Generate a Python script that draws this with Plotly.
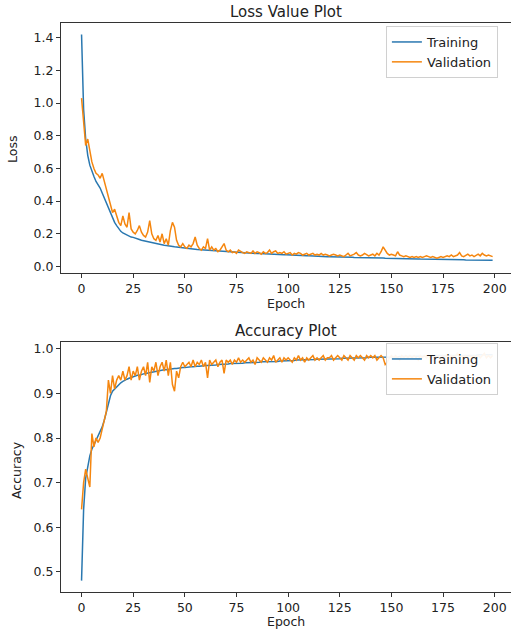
import plotly.graph_objects as go
from plotly.subplots import make_subplots

epochs = list(range(200))

train_loss = [
    1.42, 0.96, 0.78, 0.68, 0.62, 0.58, 0.55, 0.52, 0.50, 0.48,
    0.45, 0.42, 0.38, 0.35, 0.32, 0.30, 0.27, 0.25, 0.23, 0.215,
    0.205, 0.198, 0.19, 0.185, 0.18, 0.178, 0.172, 0.168, 0.165, 0.160,
    0.157, 0.154, 0.150, 0.148, 0.145, 0.142, 0.140, 0.137, 0.135, 0.132,
    0.130, 0.129, 0.126, 0.124, 0.123, 0.120, 0.119, 0.118, 0.116, 0.114,
    0.113, 0.112, 0.110, 0.108, 0.108, 0.106, 0.104, 0.103, 0.103, 0.101,
    0.100, 0.099, 0.098, 0.098, 0.096, 0.095, 0.095, 0.093, 0.092, 0.092,
    0.090, 0.089, 0.089, 0.088, 0.087, 0.086, 0.086, 0.085, 0.084, 0.083,
    0.083, 0.082, 0.081, 0.081, 0.080, 0.079, 0.079, 0.078, 0.077, 0.077,
    0.076, 0.075, 0.075, 0.074, 0.074, 0.073, 0.072, 0.072, 0.071, 0.071,
    0.070, 0.069, 0.069, 0.068, 0.068, 0.067, 0.067, 0.066, 0.066, 0.065,
    0.065, 0.064, 0.064, 0.063, 0.063, 0.062, 0.062, 0.061, 0.061, 0.060,
    0.060, 0.060, 0.059, 0.059, 0.058, 0.058, 0.058, 0.057, 0.057, 0.056,
    0.056, 0.056, 0.055, 0.055, 0.055, 0.054, 0.054, 0.054, 0.053, 0.053,
    0.053, 0.052, 0.052, 0.052, 0.051, 0.051, 0.052, 0.050, 0.050, 0.050,
    0.049, 0.049, 0.049, 0.048, 0.048, 0.048, 0.047, 0.047, 0.047, 0.047,
    0.046, 0.046, 0.046, 0.046, 0.045, 0.045, 0.045, 0.045, 0.044, 0.044,
    0.044, 0.044, 0.043, 0.043, 0.043, 0.043, 0.042, 0.042, 0.042, 0.042,
    0.042, 0.041, 0.041, 0.041, 0.041, 0.041, 0.040, 0.040, 0.040, 0.040,
    0.040, 0.039, 0.039, 0.039, 0.039, 0.039, 0.038, 0.038, 0.038, 0.038,
]

val_loss = [
    1.03, 0.86, 0.74, 0.78, 0.70, 0.64, 0.60, 0.57, 0.56, 0.54,
    0.57, 0.52, 0.47, 0.42, 0.37, 0.33, 0.35, 0.31, 0.27, 0.25,
    0.31, 0.26, 0.24, 0.33, 0.23, 0.21, 0.20, 0.22, 0.25, 0.21,
    0.19, 0.18, 0.21, 0.28, 0.20, 0.17, 0.16, 0.19, 0.15, 0.20,
    0.14, 0.17, 0.13, 0.22, 0.27, 0.24, 0.16, 0.13, 0.12, 0.14,
    0.12, 0.11, 0.13, 0.12, 0.14, 0.18, 0.13, 0.11, 0.10, 0.12,
    0.11, 0.17, 0.10, 0.12, 0.10, 0.11, 0.09, 0.10, 0.12, 0.14,
    0.10, 0.09, 0.10, 0.085, 0.09, 0.08, 0.10, 0.09, 0.085, 0.08,
    0.09, 0.085, 0.08, 0.095, 0.08, 0.09, 0.085, 0.075, 0.09, 0.08,
    0.085, 0.10, 0.08, 0.09, 0.095, 0.08, 0.085, 0.08, 0.09, 0.075,
    0.08, 0.085, 0.07, 0.08, 0.075, 0.085, 0.08, 0.07, 0.075, 0.08,
    0.07, 0.075, 0.08, 0.07, 0.075, 0.07, 0.08, 0.07, 0.075, 0.07,
    0.065, 0.07, 0.075, 0.07, 0.065, 0.07, 0.065, 0.06, 0.07, 0.08,
    0.065, 0.07, 0.075, 0.085, 0.07, 0.065, 0.07, 0.08, 0.07, 0.065,
    0.07, 0.075, 0.065, 0.08, 0.07, 0.09, 0.12, 0.10, 0.08, 0.07,
    0.075, 0.07, 0.065, 0.09, 0.07, 0.065, 0.06, 0.065, 0.06, 0.055,
    0.06, 0.055, 0.06, 0.055, 0.06, 0.055, 0.06, 0.065, 0.06, 0.055,
    0.06, 0.055, 0.05, 0.055, 0.06, 0.055, 0.06, 0.065, 0.06, 0.07,
    0.06, 0.065, 0.07, 0.085, 0.065, 0.06, 0.07, 0.075, 0.065, 0.07,
    0.06, 0.07, 0.075, 0.065, 0.08, 0.07, 0.065, 0.07, 0.065, 0.06,
]

train_acc = [
    0.48, 0.64, 0.71, 0.74, 0.76, 0.775, 0.785, 0.795, 0.805, 0.815,
    0.825, 0.84, 0.86, 0.88, 0.895, 0.905, 0.91, 0.915, 0.92, 0.924,
    0.927, 0.93, 0.932, 0.934, 0.936, 0.937, 0.939, 0.941, 0.941, 0.943,
    0.944, 0.945, 0.946, 0.947, 0.948, 0.948, 0.950, 0.951, 0.951, 0.952,
    0.953, 0.953, 0.954, 0.955, 0.955, 0.956, 0.956, 0.957, 0.957, 0.958,
    0.958, 0.959, 0.959, 0.960, 0.960, 0.961, 0.961, 0.961, 0.962, 0.962,
    0.963, 0.963, 0.963, 0.964, 0.964, 0.964, 0.965, 0.965, 0.965, 0.966,
    0.966, 0.966, 0.967, 0.967, 0.967, 0.967, 0.968, 0.968, 0.968, 0.969,
    0.969, 0.969, 0.969, 0.970, 0.970, 0.970, 0.970, 0.971, 0.971, 0.971,
    0.971, 0.972, 0.972, 0.972, 0.972, 0.972, 0.973, 0.973, 0.973, 0.973,
    0.974, 0.974, 0.974, 0.974, 0.975, 0.975, 0.975, 0.975, 0.975, 0.976,
    0.976, 0.976, 0.976, 0.976, 0.977, 0.977, 0.977, 0.977, 0.977, 0.977,
    0.978, 0.978, 0.978, 0.978, 0.978, 0.978, 0.979, 0.979, 0.979, 0.979,
    0.979, 0.979, 0.980, 0.980, 0.980, 0.980, 0.980, 0.980, 0.980, 0.981,
    0.981, 0.981, 0.981, 0.981, 0.981, 0.981, 0.982, 0.982, 0.982, 0.982,
    0.982, 0.982, 0.982, 0.982, 0.983, 0.983, 0.983, 0.983, 0.983, 0.983,
    0.983, 0.983, 0.984, 0.984, 0.984, 0.984, 0.984, 0.984, 0.984, 0.984,
    0.984, 0.985, 0.985, 0.985, 0.985, 0.985, 0.985, 0.985, 0.985, 0.985,
    0.985, 0.986, 0.986, 0.986, 0.986, 0.986, 0.986, 0.986, 0.986, 0.986,
    0.986, 0.986, 0.987, 0.987, 0.987, 0.987, 0.987, 0.987, 0.987, 0.987,
]

val_acc = [
    0.64, 0.70, 0.73, 0.71, 0.69, 0.81, 0.78, 0.80, 0.79, 0.80,
    0.82, 0.84, 0.86, 0.93, 0.90, 0.94, 0.91, 0.93, 0.94, 0.93,
    0.95, 0.93, 0.94, 0.96, 0.93, 0.95, 0.94, 0.96, 0.93, 0.95,
    0.96, 0.94, 0.97, 0.925, 0.96, 0.95, 0.97, 0.94, 0.96, 0.97,
    0.95, 0.975, 0.94, 0.97, 0.92, 0.905, 0.95, 0.935, 0.96, 0.97,
    0.96, 0.965, 0.97, 0.96, 0.975, 0.96, 0.97, 0.965, 0.975, 0.96,
    0.97, 0.935, 0.975, 0.965, 0.97, 0.975, 0.96, 0.97, 0.975, 0.945,
    0.975, 0.97, 0.975, 0.965, 0.975, 0.97, 0.98, 0.97, 0.975, 0.97,
    0.975, 0.98, 0.97, 0.975, 0.965, 0.98, 0.975, 0.97, 0.98, 0.975,
    0.97, 0.98, 0.975, 0.985, 0.97, 0.975, 0.98, 0.97, 0.98, 0.975,
    0.98, 0.975, 0.97, 0.98, 0.975, 0.985, 0.975, 0.98, 0.97, 0.98,
    0.975, 0.98, 0.985, 0.975, 0.98, 0.975, 0.98, 0.985, 0.975, 0.98,
    0.98, 0.985, 0.975, 0.98, 0.985, 0.98, 0.975, 0.985, 0.98, 0.975,
    0.985, 0.98, 0.975, 0.985, 0.98, 0.985, 0.98, 0.975, 0.985, 0.98,
    0.985, 0.98, 0.985, 0.975, 0.98, 0.985, 0.98, 0.965, 0.97, 0.98,
    0.985, 0.98, 0.985, 0.98, 0.975, 0.985, 0.98, 0.985, 0.98, 0.985,
    0.98, 0.985, 0.98, 0.975, 0.985, 0.98, 0.985, 0.98, 0.985, 0.98,
    0.985, 0.98, 0.985, 0.98, 0.975, 0.985, 0.98, 0.985, 0.98, 0.985,
    0.98, 0.985, 0.99, 0.98, 0.985, 0.98, 0.985, 0.98, 0.985, 0.98,
    0.985, 0.98, 0.985, 0.98, 0.985, 0.99, 0.98, 0.985, 0.98, 0.985,
]

x_ticks = [0, 25, 50, 75, 100, 125, 150, 175, 200]
loss_ticks = [0.0, 0.2, 0.4, 0.6, 0.8, 1.0, 1.2, 1.4]
acc_ticks = [0.5, 0.6, 0.7, 0.8, 0.9, 1.0]

blue = "#2a78b0"
orange = "#f5860f"
font = "DejaVu Sans"
txt = "#222"

fig = make_subplots(rows=2, cols=1)

fig.add_trace(go.Scatter(x=epochs, y=train_loss, mode="lines", name="Training",
                         line=dict(color=blue, width=1.5), legend="legend"), row=1, col=1)
fig.add_trace(go.Scatter(x=epochs, y=val_loss, mode="lines", name="Validation",
                         line=dict(color=orange, width=1.5), legend="legend"), row=1, col=1)
fig.add_trace(go.Scatter(x=epochs, y=train_acc, mode="lines", name="Training",
                         line=dict(color=blue, width=1.5), legend="legend2"), row=2, col=1)
fig.add_trace(go.Scatter(x=epochs, y=val_acc, mode="lines", name="Validation",
                         line=dict(color=orange, width=1.5), legend="legend2"), row=2, col=1)

axis_style = dict(showline=True, linecolor="#333", linewidth=1, ticks="outside",
                  ticklen=4, tickcolor="#333", showgrid=False, zeroline=False,
                  automargin=False, tickfont=dict(family=font, size=12.5, color=txt))

fig.update_xaxes(range=[-9.95, 207.9], tickvals=x_ticks, mirror=True, domain=[0, 1], **axis_style)
fig.update_yaxes(mirror=False, tickformat=".1f", **axis_style)

top1, bot1 = 1 - 23 / 630, 1 - 273 / 630
top2, bot2 = 1 - 342 / 630, 1 - 592 / 630

fig.update_layout(
    yaxis=dict(domain=[bot1, top1], range=[-0.04, 1.49], tickvals=loss_ticks),
    yaxis2=dict(domain=[bot2, top2], range=[0.4545, 1.0155], tickvals=acc_ticks),
)

legend_style = dict(x=0.722, xanchor="left", yanchor="top", bgcolor="rgba(255,255,255,0.93)",
                    bordercolor="#d0d0d0", borderwidth=1,
                    font=dict(family=font, size=13, color=txt),
                    tracegroupgap=0, itemwidth=30)


def label(text, x, y, size=12.5, angle=0):
    return dict(text=text, x=x, y=y, xref="paper", yref="paper", xanchor="center",
                yanchor="middle", showarrow=False, textangle=angle,
                font=dict(family=font, size=size, color=txt))


lx = (12 - 61) / 450
fig.update_layout(
    width=511, height=630,
    margin=dict(l=61, r=0, t=0, b=0, autoexpand=False),
    paper_bgcolor="white", plot_bgcolor="white",
    showlegend=True,
    legend=dict(y=1 - 26 / 630, **legend_style),
    legend2=dict(y=1 - 343 / 630, **legend_style),
    annotations=[
        label("Loss Value Plot", 0.5, 1 - 12 / 630, size=15),
        label("Accuracy Plot", 0.5, 1 - 331 / 630, size=15),
        label("Epoch", 0.5, 1 - 303 / 630),
        label("Epoch", 0.5, 1 - 621 / 630),
        label("Loss", lx, 1 - 150 / 630, angle=-90),
        label("Accuracy", lx + 4 / 450, 1 - 470 / 630, angle=-90),
    ],
)

# page has a default 8px body margin; drop it so the figure sits at 0,0
fig.write_html("out.html", config={"displayModeBar": False},
               post_script="document.body.style.margin='0';")
